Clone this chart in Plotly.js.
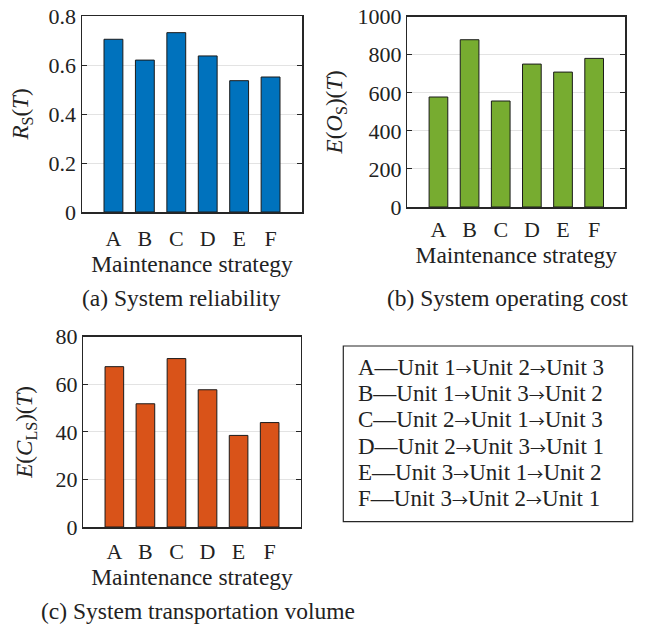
<!DOCTYPE html>
<html>
<head>
<meta charset="utf-8">
<script src="https://cdn.plot.ly/plotly-3.0.1.min.js"></script>
<style>
  html, body { margin: 0; padding: 0; background: #ffffff; }
  #chart { width: 649px; height: 627px; }
</style>
</head>
<body>
<div id="chart"></div>
<script>
// ---- data ----
const categories = ['A', 'B', 'C', 'D', 'E', 'F'];
const reliability = [0.705, 0.620, 0.732, 0.637, 0.536, 0.551];
const operatingCost = [578, 879, 557, 751, 709, 781];
const transportVolume = [67.4, 51.8, 70.8, 57.7, 38.5, 43.9];
const strategyUnits = [
  ['Unit 1', 'Unit 2', 'Unit 3'],
  ['Unit 1', 'Unit 3', 'Unit 2'],
  ['Unit 2', 'Unit 1', 'Unit 3'],
  ['Unit 2', 'Unit 3', 'Unit 1'],
  ['Unit 3', 'Unit 1', 'Unit 2'],
  ['Unit 3', 'Unit 2', 'Unit 1']
];
const captions = ['(a) System reliability', '(b) System operating cost', '(c) System transportation volume'];
const xTitle = 'Maintenance strategy';
const yTitles = [
  '<i>R</i><sub>S</sub>(<i>T</i>)',
  '<i>E</i>(<i>O</i><sub>S</sub>)(<i>T</i>)',
  '<i>E</i>(<i>C</i><sub>LS</sub>)(<i>T</i>)'
];

// ---- styling / layout ----
const W = 649, H = 627;
const FONT = 'Liberation Serif, Times New Roman, serif';
const TXT = '#222222';
const px = v => v / W;          // x pixel -> paper
const py = v => 1 - v / H;      // y pixel (from top) -> paper

const barStyle = color => ({
  type: 'bar', x: categories, width: 0.6,
  marker: { color: color, line: { color: '#1a1a1a', width: 1 } },
  hoverinfo: 'x+y', showlegend: false
});

const traces = [
  Object.assign(barStyle('#0072BD'), { y: reliability, xaxis: 'x', yaxis: 'y' }),
  Object.assign(barStyle('#77AC30'), { y: operatingCost, xaxis: 'x2', yaxis: 'y2' }),
  Object.assign(barStyle('#D95319'), { y: transportVolume, xaxis: 'x3', yaxis: 'y3' })
];

function xAxis(domain, anchor, labelStandoff) {
  return {
    domain: domain, anchor: anchor, type: 'category', range: [-1, 6],
    showline: true, mirror: true, linecolor: '#262626', linewidth: 1.5,
    ticks: '', showgrid: false, zeroline: false, ticklabelstandoff: labelStandoff,
    tickfont: { family: FONT, size: 22, color: TXT },
    title: { text: xTitle, font: { family: FONT, size: 23.5, color: TXT }, standoff: 4 }
  };
}
function yAxis(domain, anchor, range, dtick, title, standoff) {
  return {
    domain: domain, anchor: anchor, range: range, dtick: dtick,
    showline: true, mirror: 'ticks', linecolor: '#262626', linewidth: 1.5,
    ticks: 'inside', ticklen: 5, tickwidth: 1, tickcolor: '#262626',
    showgrid: true, gridcolor: '#e3e3e3', gridwidth: 1, zeroline: false,
    tickfont: { family: FONT, size: 22, color: TXT },
    title: { text: title, font: { family: FONT, size: 23, color: TXT }, standoff: standoff }
  };
}

const annotations = [];
const capPos = [[181, 298], [507, 298], [198, 611]];
captions.forEach((c, i) => annotations.push({
  xref: 'paper', yref: 'paper', x: px(capPos[i][0]), y: py(capPos[i][1]),
  xanchor: 'center', yanchor: 'middle', showarrow: false, text: c,
  font: { family: FONT, size: 23.5, color: TXT }
}));
const ARROW = '<span style="font-family:\'Noto Sans CJK SC\';font-size:16px">→</span>';
const lineY0 = 367.7, lineStep = 26.1;
categories.forEach((c, i) => annotations.push({
  xref: 'paper', yref: 'paper', x: px(356), y: py(lineY0 + i * lineStep),
  xanchor: 'left', yanchor: 'middle', showarrow: false,
  text: c + '—' + strategyUnits[i].join(ARROW),
  font: { family: FONT, size: 23, color: TXT }
}));

const layout = {
  width: W, height: H,
  margin: { l: 0, r: 0, t: 0, b: 0 },
  paper_bgcolor: '#ffffff', plot_bgcolor: '#ffffff',
  bargap: 0,
  xaxis: xAxis([px(82), px(302)], 'y', 6),
  yaxis: yAxis([py(212), py(16)], 'x', [0, 0.8], 0.2, yTitles[0], 13),
  xaxis2: xAxis([px(407.3), px(625.3)], 'y2', 2),
  yaxis2: yAxis([py(207), py(16.7)], 'x2', [0, 1000], 200, yTitles[1], 8),
  xaxis3: xAxis([px(83.3), px(300.7)], 'y3', 4),
  yaxis3: yAxis([py(527), py(336.7)], 'x3', [0, 80], 20, yTitles[2], 16),
  shapes: [{
    type: 'rect', xref: 'paper', yref: 'paper',
    x0: px(343.3), x1: px(632.7), y0: py(521.7), y1: py(346),
    line: { color: '#262626', width: 1.2 }, fillcolor: 'rgba(0,0,0,0)'
  }],
  annotations: annotations
};

Plotly.newPlot('chart', traces, layout, { displayModeBar: false, staticPlot: true });
</script>
</body>
</html>
